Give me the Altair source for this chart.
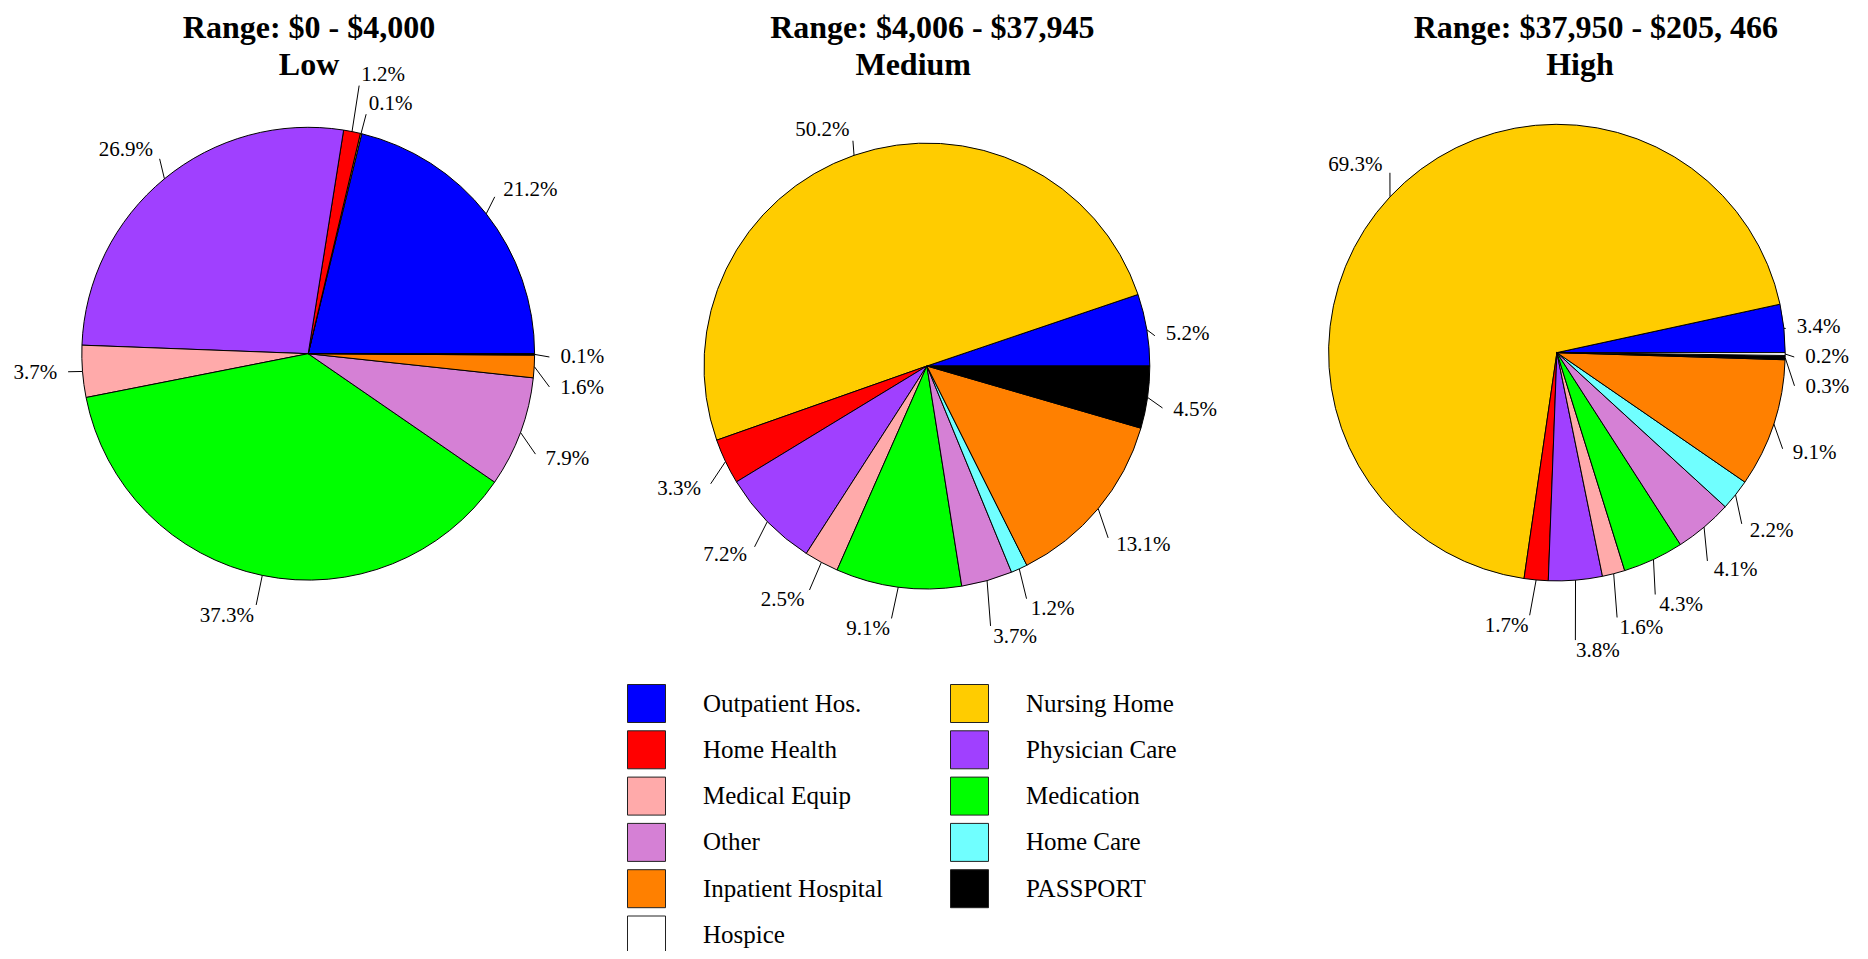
import math
import altair as alt
import pandas as pd

# ---------------- data ----------------
categories = ["Outpatient Hos.", "Nursing Home", "Home Health", "Physician Care",
              "Medical Equip", "Medication", "Other", "Home Care",
              "Inpatient Hospital", "PASSPORT", "Hospice"]
colors = ["#0000FF", "#FFCC00", "#FF0000", "#A040FF", "#FFAAAA", "#00FF00",
          "#D580D5", "#70FFFF", "#FF8000", "#000000", "#FFFFFF"]

pie_names = ["Low", "Medium", "High"]
pie_ranges = ["Range: $0 - $4,000", "Range: $4,006 - $37,945", "Range: $37,950 - $205, 466"]

low_values = [21.2, 0.1, 1.2, 26.9, 3.7, 37.3, 7.9, 0.0, 1.6, 0.1, 0.0]
medium_values = [5.2, 50.2, 3.3, 7.2, 2.5, 9.1, 3.7, 1.2, 13.1, 4.5, 0.0]
high_values = [3.4, 69.3, 1.7, 3.8, 1.6, 4.3, 4.1, 2.2, 9.1, 0.3, 0.2]

# ---------------- layout / style ----------------
W, H = 1852, 943
FONT = "Liberation Serif"
pie_cx = [308.2, 926.9, 1556.9]
pie_cy = [353.7, 366.0, 352.6]
pie_r = [226.4, 222.9, 228.3]

# label placement tweaks (angle turn in degrees, distance as multiple of radius)
low_turn = [1.9, -0.1, 0.4, -2.1, -0.2, 0.0, -3.5, 0.0, -4.6, -0.6, 0.0]
low_reach = [1.125, 1.137, 1.254, 1.131, 1.112, 1.182, 1.146, 1.1, 1.124, 1.114, 1.1]
medium_turn = [-1.8, -0.9, 3.2, 2.1, 0.6, -0.6, -1.9, -1.3, -3.7, -2.0, 0.0]
medium_reach = [1.081, 1.113, 1.154, 1.170, 1.184, 1.193, 1.250, 1.185, 1.170, 1.123, 1.1]
high_turn = [-0.1, -4.1, -0.7, -1.0, -1.6, -2.9, -4.3, -4.3, -4.9, -6.7, -0.7]
high_reach = [1.056, 1.123, 1.205, 1.310, 1.238, 1.192, 1.174, 1.152, 1.123, 1.099, 1.088]

title_x1 = [309.0, 932.4, 1595.9]
title_x2 = [309.0, 913.2, 1580.0]
title_y1, title_y2 = 38, 75

leg_x, leg_dx, leg_y, leg_dy, leg_box, leg_txt = 627.5, 323.0, 684.5, 46.3, 38.0, 75.5

# ---------------- tables ----------------
rows = []
all_vals = [low_values, medium_values, high_values]
all_turn = [low_turn, medium_turn, high_turn]
all_reach = [low_reach, medium_reach, high_reach]
for p, name in enumerate(pie_names):
    for i, cat in enumerate(categories):
        rows.append(dict(pie=name, order=i, category=cat, value=all_vals[p][i],
                         cx=pie_cx[p], cy=pie_cy[p], r=pie_r[p],
                         turn=all_turn[p][i], reach=all_reach[p][i]))
df = pd.DataFrame(rows)

title_rows = []
for p in range(3):
    title_rows.append(dict(text=pie_ranges[p], tx=title_x1[p], ty=title_y1))
    title_rows.append(dict(text=pie_names[p], tx=title_x2[p], ty=title_y2))
title_df = pd.DataFrame(title_rows)

leg_df = pd.DataFrame({"category": categories, "idx": list(range(len(categories)))})

xs = alt.Scale(domain=[8, 8 + W], nice=False, zero=False)
ys = alt.Scale(domain=[8, 8 + H], nice=False, zero=False, reverse=True)
cscale = alt.Scale(domain=categories, range=colors)

base = (
    alt.Chart(df)
    .transform_filter("datum.value > 0")
    .transform_window(cum_end="sum(value)", groupby=["pie"],
                      sort=[alt.SortField("order")], frame=[None, 0])
    .transform_joinaggregate(total="sum(value)", groupby=["pie"])
    .transform_calculate(
        f0="(datum.cum_end - datum.value) / datum.total",
        f1="datum.cum_end / datum.total",
        mid="2*PI*(datum.cum_end - datum.value/2) / datum.total",
    )
    .transform_calculate(
        la="datum.mid + datum.turn*PI/180",
        ld="datum.reach*datum.r",
    )
    .transform_calculate(
        lx="datum.cx + datum.ld*cos(datum.la)",
        ly="datum.cy - datum.ld*sin(datum.la)",
        sx="datum.cx + datum.r*cos(datum.mid)",
        sy="datum.cy - datum.r*sin(datum.mid)",
        ex="datum.cx + (datum.ld - 11)*cos(datum.la)",
        ey="datum.cy - (datum.ld - 11)*sin(datum.la)",
        lab="format(datum.value, '.1f') + '%'",
        side="cos(datum.mid) >= 0 ? 'L' : 'R'",
    )
)

arcs = base.mark_arc(stroke="black", strokeWidth=1).encode(
    x=alt.X("cx:Q", scale=xs, axis=None),
    y=alt.Y("cy:Q", scale=ys, axis=None),
    theta=alt.Theta("f0:Q", stack=None,
                    scale=alt.Scale(domain=[0, 1], range=[2.5 * math.pi, 0.5 * math.pi])),
    theta2="f1:Q",
    radius=alt.Radius("r:Q", scale=None),
    color=alt.Color("category:N", scale=cscale, legend=None),
)

rules = base.mark_rule(color="black", strokeWidth=1).encode(
    x=alt.X("sx:Q", scale=xs, axis=None),
    y=alt.Y("sy:Q", scale=ys, axis=None),
    x2="ex:Q",
    y2="ey:Q",
)

lab_left = base.transform_filter("datum.side == 'L'").mark_text(
    align="left", baseline="middle", font=FONT, fontSize=21, color="black"
).encode(x=alt.X("lx:Q", scale=xs, axis=None), y=alt.Y("ly:Q", scale=ys, axis=None), text="lab:N")

lab_right = base.transform_filter("datum.side == 'R'").mark_text(
    align="right", baseline="middle", font=FONT, fontSize=21, color="black"
).encode(x=alt.X("lx:Q", scale=xs, axis=None), y=alt.Y("ly:Q", scale=ys, axis=None), text="lab:N")

titles = alt.Chart(title_df).mark_text(
    align="center", baseline="alphabetic", font=FONT, fontSize=32, fontWeight="bold", color="black"
).encode(x=alt.X("tx:Q", scale=xs, axis=None), y=alt.Y("ty:Q", scale=ys, axis=None), text="text:N")

leg_base = alt.Chart(leg_df).transform_calculate(
    col="datum.idx % 2",
    row="floor(datum.idx / 2)",
).transform_calculate(
    bx0=f"{leg_x} + datum.col*{leg_dx}",
    by0=f"{leg_y} + datum.row*{leg_dy}",
).transform_calculate(
    bx1=f"datum.bx0 + {leg_box}",
    by1=f"datum.by0 + {leg_box}",
    tx=f"datum.bx0 + {leg_txt}",
    ty=f"datum.by0 + {leg_box}/2",
)

leg_rects = leg_base.mark_rect(stroke="#222222", strokeWidth=1).encode(
    x=alt.X("bx0:Q", scale=xs, axis=None), x2="bx1:Q",
    y=alt.Y("by0:Q", scale=ys, axis=None), y2="by1:Q",
    color=alt.Color("category:N", scale=cscale, legend=None),
)
leg_text = leg_base.mark_text(
    align="left", baseline="middle", font=FONT, fontSize=25, color="black"
).encode(x=alt.X("tx:Q", scale=xs, axis=None), y=alt.Y("ty:Q", scale=ys, axis=None), text="category:N")

chart = alt.layer(arcs, rules, lab_left, lab_right, titles, leg_rects, leg_text).properties(
    width=W, height=H, padding=0, autosize=alt.AutoSizeParams(type="none")
).configure_view(stroke=None)

chart.save("out.html", embed_options={"renderer": "svg", "actions": False})
